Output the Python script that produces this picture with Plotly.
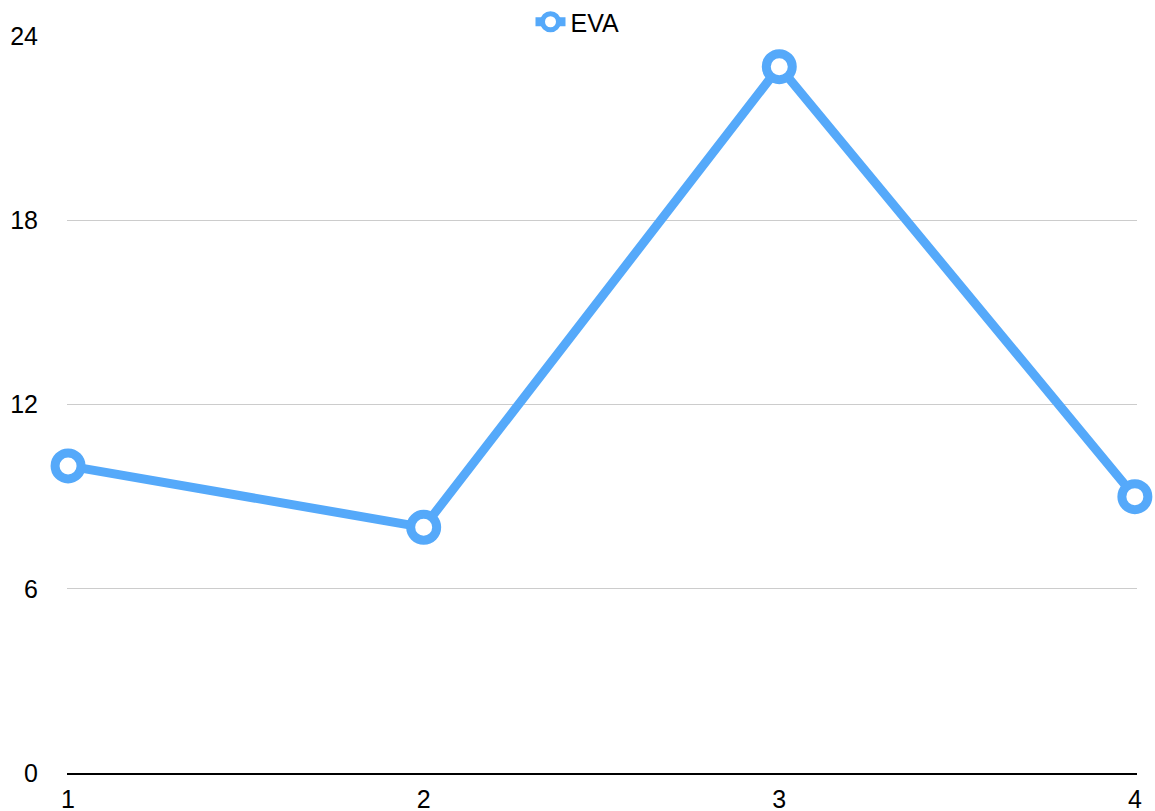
import plotly.graph_objects as go

x_vals = [1, 2, 3, 4]
eva_vals = [10, 8, 23, 9]
y_ticks = [0, 6, 12, 18, 24]
series_name = "EVA"

blue = "#55A9FA"

fig = go.Figure()
fig.add_trace(go.Scatter(
    x=x_vals, y=eva_vals, name=series_name,
    mode="lines+markers",
    line=dict(color=blue, width=9),
    marker=dict(size=26, color="white", line=dict(color=blue, width=9)),
    showlegend=True,
    cliponaxis=False,
))

fig.update_layout(
    width=1155, height=811,
    margin=dict(l=67, r=18, t=36, b=38, autoexpand=False),
    paper_bgcolor="white", plot_bgcolor="white",
    font=dict(family="Liberation Sans, Arial, sans-serif", size=25, color="black"),
    showlegend=True,
    legend=dict(orientation="h", xref="container", yref="container",
                x=0.5, xanchor="center", y=1 - 22 / 811, yanchor="middle",
                font=dict(size=25), bgcolor="rgba(0,0,0,0)", itemwidth=30),
)
fig.update_xaxes(
    range=[0.997, 4.006], tickvals=x_vals, ticktext=[str(v) for v in x_vals],
    showgrid=False, zeroline=False, automargin=False,
    showline=True, linecolor="black", linewidth=2,
    ticks="", ticklabelstandoff=3,
)
fig.update_yaxes(
    range=[0, 24], tickvals=y_ticks, automargin=False,
    showgrid=True, gridcolor="#CCCCCC", gridwidth=1,
    zeroline=False, showline=False, ticks="",
    ticklabelstandoff=28,
)

fig.write_html(
    "out.html",
    config={"displayModeBar": False},
    post_script="document.body.style.margin='0';document.body.style.overflow='hidden';",
)
